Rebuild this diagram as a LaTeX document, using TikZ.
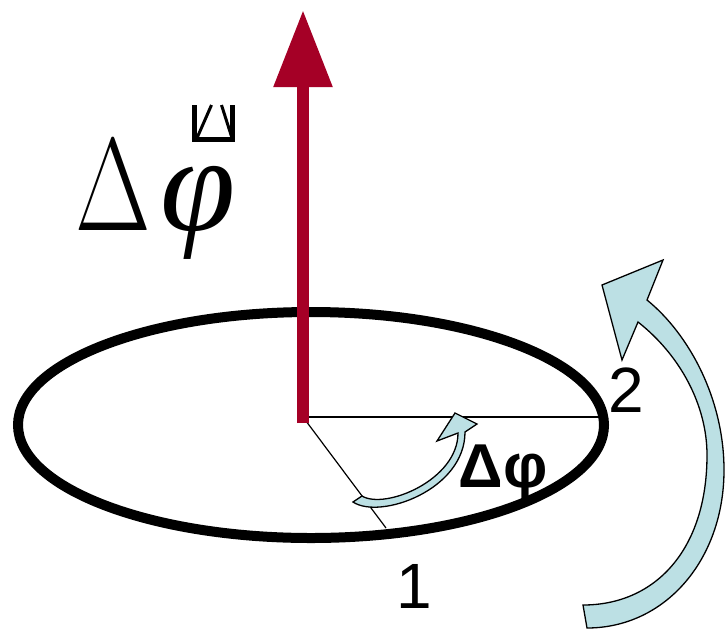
\documentclass[tikz,border=0pt]{standalone}
\usepackage{fix-cm}
\usepackage{fontspec}
\setmainfont{Liberation Serif}
\newfontfamily\arialfont{Liberation Sans}
\usetikzlibrary{arrows.meta}
\usetikzlibrary{calc}
\definecolor{vecred}{RGB}{165,0,38}
\definecolor{turnblue}{RGB}{188,224,228}

\begin{document}
\begin{tikzpicture}[x=1pt, y=-1pt,
			rim/.style={line width=10pt},
			leg/.style={line width=1.2pt},
			turn/.style={fill=turnblue, draw=black, line width=1.3pt},
			num/.style={font=\arialfont\fontsize{64}{64}\selectfont, inner sep=0pt, anchor=base}]
		\useasboundingbox (0,0) rectangle (725,630);

		\coordinate (o) at (303,417);
		\coordinate (c) at (311,425);
		\coordinate (p2) at (604,417);
		\coordinate (p1) at (386,528);
		\coordinate (top) at (303,10);

		\draw[rim] (c) ellipse (293 and 113);
		\draw[leg] (o) -- (p2);
		\draw[leg] (o) -- (p1);

		\draw[vecred, line width=12pt, -{Triangle[length=77pt, width=56pt]}] ($(o)+(0,6)$) -- (top);

		% small turn arrow
		\draw[turn] (353,502) .. controls (380,520) and (465,490) .. (465,432)
			-- (477,424) -- (455,413) -- (437,441) -- (458,433)
			.. controls (458,480) and (385,510) .. (362,496) -- cycle;

		% big turn arrow
		\draw[turn] (587,628) .. controls (665,628) and (724,560) .. (724,470)
			.. controls (724,400) and (690,335) .. (647,300)
			-- (663,260) -- (602,285) -- (622,360) -- (638,322)
			.. controls (680,355) and (707,405) .. (707,455)
			.. controls (707,550) and (655,605) .. (583,605) -- cycle;

		\node[font=\fontsize{132}{132}\selectfont, inner sep=0pt, anchor=base east] (delta) at (151,230) {\scalebox{0.74}[1]{$\Delta$}};
		\node[font=\fontsize{136}{136}\selectfont, inner sep=0pt, anchor=base west] (dphi) at (160,230) {\textit{φ}};
		\draw[line width=4.5pt] (194.5,105) -- (194.5,139.5) -- (232.5,139.5) -- (232.5,105);
		\draw[line width=3pt] (211.5,105) -- (197,138) (221.5,105) -- (232,138);

		\node[font=\arialfont\bfseries\fontsize{62}{62}\selectfont, inner sep=0pt, anchor=base] (dang) at (503,487) {Δφ};
		\node[num] (two) at (626,412) {2};
		\node[num] (one) at (414,608) {1};
	\end{tikzpicture}
\end{document}
